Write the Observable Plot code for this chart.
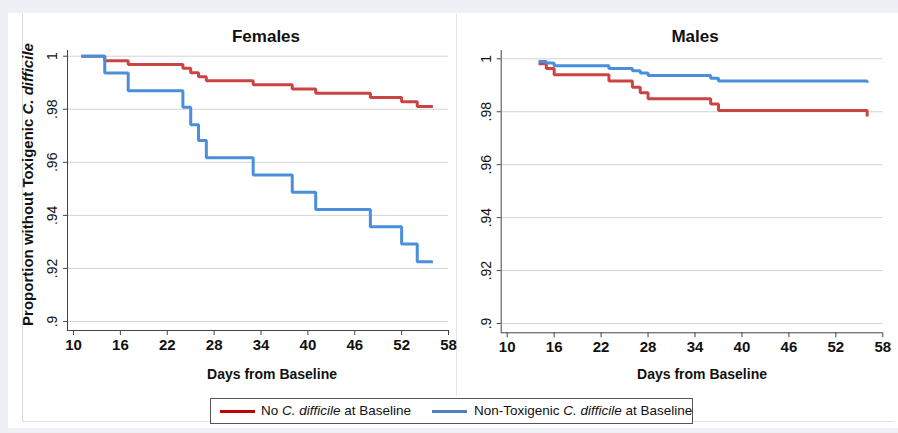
<!DOCTYPE html>
<html>
<head>
<meta charset="utf-8">
<script src="https://cdn.jsdelivr.net/npm/d3@7"></script>
<script src="https://cdn.jsdelivr.net/npm/@observablehq/plot@0.6"></script>
<style>
  html, body { margin: 0; padding: 0; background: #eef0f5; }
  #wrap { position: relative; width: 898px; height: 433px; background: #eef0f5; font-family: "Liberation Sans", Arial, sans-serif; overflow: hidden; }
  #white { position: absolute; left: 8px; top: 13px; width: 890px; height: 415px; background: #fff; }
  #frame { position: absolute; left: 22px; top: 14px; width: 872px; height: 408px; border-left: 1px solid #d9d9d9; border-bottom: 1px solid #e0e0e0; box-sizing: border-box; }
  #divider { position: absolute; left: 456px; top: 14px; width: 1px; height: 382px; background: #e6e6e6; }
  .panel { position: absolute; top: 0; }
  #legend { position: absolute; left: 210px; top: 398px; width: 483px; height: 26px; border: 1px solid #555; box-sizing: border-box; background: #fff; font-size: 13.5px; color: #111; }
  #legend .item { position: absolute; top: 0; height: 24px; line-height: 24px; white-space: nowrap; }
  #legend .sw { position: absolute; top: 11px; width: 35px; height: 3px; }
</style>
</head>
<body>
<div id="wrap">
  <div id="white"></div>
  <div id="frame"></div>
  <div id="divider"></div>
  <div id="left" class="panel" style="left:0px"></div>
  <div id="right" class="panel" style="left:456px"></div>
  <div id="legend"></div>
</div>
<script>
// ---- Data ----
const seriesNames = ["No C. difficile at Baseline", "Non-Toxigenic C. difficile at Baseline"];
const panelTitles = ["Females", "Males"];
const xTicks = [10, 16, 22, 28, 34, 40, 46, 52, 58];
const yTicks = [0.9, 0.92, 0.94, 0.96, 0.98, 1];

const femNoDays  = [11, 14, 17, 24, 25, 26, 27, 33, 38, 41, 48, 52, 54, 56];
const femNoVals  = [1, 0.9983, 0.9969, 0.9955, 0.9938, 0.9923, 0.9907, 0.9892, 0.9876, 0.986, 0.9844, 0.9828, 0.981, 0.981];
const femNtDays  = [11, 14, 17, 24, 25, 26, 27, 33, 38, 41, 48, 52, 54, 56];
const femNtVals  = [1, 0.9937, 0.987, 0.9808, 0.9742, 0.9682, 0.9617, 0.9552, 0.9487, 0.9422, 0.9357, 0.9292, 0.9225, 0.9225];

const malNoDays  = [14, 15, 16, 23, 26, 27, 28, 36, 37, 56, 56];
const malNoVals  = [0.9981, 0.9963, 0.994, 0.9916, 0.9893, 0.9872, 0.9849, 0.9829, 0.9805, 0.9805, 0.9782];
const malNtDays  = [14, 15, 16, 23, 26, 27, 28, 36, 37, 56, 56];
const malNtVals  = [0.999, 0.9984, 0.9974, 0.9963, 0.9955, 0.9946, 0.9937, 0.9927, 0.9916, 0.9916, 0.991];

const lineColors = ["#cc4343", "#4a8fdc"];
const legendColors = ["#c00000", "#4f81bd"];

const toRows = (days, vals) => days.map((d, i) => ({day: d, p: vals[i]}));
const fmtY = d => d === 1 ? "1" : d3.format(".2~f")(d).replace(/^0\./, ".");
const FONT = "'Liberation Sans', Arial, sans-serif";

function panel(cfg) {
  const marks = [
    Plot.gridY(yTicks, {stroke: "#d3d3d3", strokeOpacity: 1}),
    Plot.ruleX([cfg.xdom[0]], {stroke: "#444", strokeWidth: 1}),
    Plot.ruleY([cfg.ydom[0]], {stroke: "#444", strokeWidth: 1}),
    Plot.axisY({ticks: yTicks, tickSize: 4, tickFormat: () => "", label: null, stroke: "#444"}),
    Plot.text(yTicks, {y: d => d, text: fmtY, frameAnchor: "left", dx: cfg.ylabDx, rotate: -90, fontSize: 14, fill: "#111", textAnchor: "middle", lineAnchor: "middle"}),
    Plot.axisX({ticks: xTicks, tickSize: 5, tickPadding: 4, fontSize: 15, fontWeight: "bold", label: null, stroke: "#444", tickFormat: d => String(d)}),
    Plot.line(toRows(cfg.noDays, cfg.noVals), {x: "day", y: "p", curve: "step-after", stroke: lineColors[0], strokeWidth: 3, strokeLinejoin: "miter", strokeLinecap: "butt"}),
    Plot.line(toRows(cfg.ntDays, cfg.ntVals), {x: "day", y: "p", curve: "step-after", stroke: lineColors[1], strokeWidth: 3, strokeLinejoin: "miter", strokeLinecap: "butt"}),
    Plot.text([cfg.title], {text: d => d, frameAnchor: "top", dx: cfg.titleDx, dy: -14, fontSize: 17, fontWeight: "bold", fill: "#111", lineAnchor: "middle"}),
    Plot.text(["Days from Baseline"], {text: d => d, frameAnchor: "bottom", dx: cfg.xlabDx, dy: cfg.xlabDy, fontSize: 14, fontWeight: "bold", fill: "#111", lineAnchor: "middle"})
  ];
  if (cfg.ylabel) {
    marks.push(Plot.text([cfg.ylabel], {text: d => d, frameAnchor: "left", dx: -39, dy: -6, rotate: -90, fontSize: 15, fontWeight: "bold", fill: "#111", textAnchor: "middle", lineAnchor: "middle", className: "ytitle"}));
  }
  return Plot.plot({
    width: cfg.width, height: 390,
    marginLeft: cfg.ml, marginRight: cfg.mr, marginTop: 50, marginBottom: cfg.mb,
    x: {domain: cfg.xdom},
    y: {domain: cfg.ydom},
    style: {fontFamily: FONT, background: "transparent", overflow: "visible", color: "#111"},
    marks
  });
}

const leftSvg = panel({
  width: 456, ml: 67, mr: 8, mb: 60,
  xdom: [9.23, 58], ydom: [0.8966, 1.00215],
  ylabDx: -15, title: panelTitles[0], titleDx: 8, xlabDx: 14, xlabDy: 44,
  noDays: femNoDays, noVals: femNoVals, ntDays: femNtDays, ntVals: femNtVals,
  ylabel: "Proportion without Toxigenic C. difficile"
});
const rightSvg = panel({
  width: 442, ml: 44.7, mr: 15.7, mb: 57.7,
  xdom: [9.233, 58], ydom: [0.89649, 1.00314],
  ylabDx: -14.7, title: panelTitles[1], titleDx: 3, xlabDx: 10, xlabDy: 42,
  noDays: malNoDays, noVals: malNoVals, ntDays: malNtDays, ntVals: malNtVals
});

document.getElementById("left").appendChild(leftSvg);
document.getElementById("right").appendChild(rightSvg);

// italic species name in the y title
d3.select(leftSvg).selectAll(".ytitle text").each(function() {
  const t = d3.select(this);
  const full = t.text();
  const idx = full.indexOf("C. difficile");
  if (idx >= 0) {
    t.text(null);
    t.append("tspan").text(full.slice(0, idx));
    t.append("tspan").attr("font-style", "italic").text("C. difficile");
  }
});

// legend
const legend = document.getElementById("legend");
const items = [
  {sw: 9, tx: 50, name: seriesNames[0]},
  {sw: 221, tx: 263, name: seriesNames[1]}
];
items.forEach((it, i) => {
  const sw = document.createElement("div");
  sw.className = "sw";
  sw.style.left = it.sw + "px";
  sw.style.background = legendColors[i];
  legend.appendChild(sw);
  const tx = document.createElement("div");
  tx.className = "item";
  tx.style.left = it.tx + "px";
  const idx = it.name.indexOf("C. difficile");
  tx.appendChild(document.createTextNode(it.name.slice(0, idx)));
  const em = document.createElement("i");
  em.textContent = "C. difficile";
  tx.appendChild(em);
  tx.appendChild(document.createTextNode(it.name.slice(idx + "C. difficile".length)));
  legend.appendChild(tx);
});
</script>
</body>
</html>
